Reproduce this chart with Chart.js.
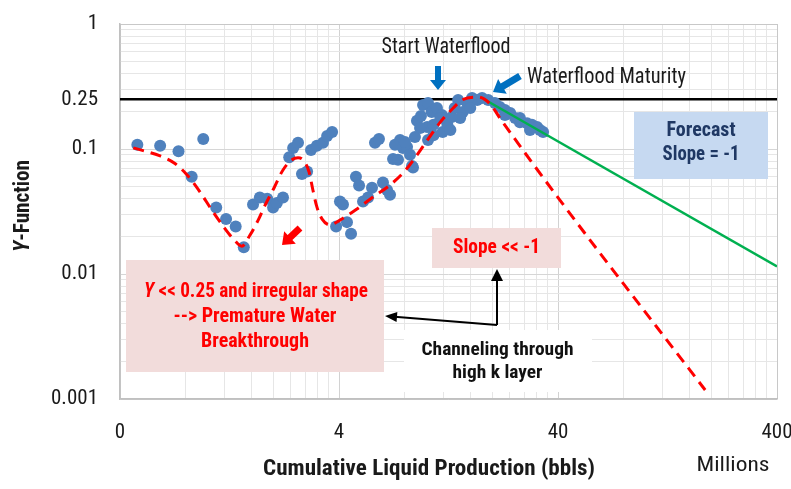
<!DOCTYPE html>
<html><head><meta charset="utf-8">
<script src="https://cdn.jsdelivr.net/npm/chart.js@4.4.1/dist/chart.umd.min.js"></script>
<style>html,body{margin:0;padding:0;background:#fff;}#wrap{position:relative;width:791px;height:489px;}</style>
</head><body><div id="wrap"><canvas id="c" width="791" height="489"></canvas></div>
<script>
const FONT = "'Liberation Sans Narrow','Roboto Condensed','DejaVu Sans Condensed','Liberation Sans',Arial,sans-serif";

const X_MIN = 0.4, X_MAX = 400, Y_MIN = 0.001, Y_MAX = 1;
const xTickValues = [0.4, 4, 40, 400];
const xTickLabels = ['0', '4', '40', '400'];
const yTickValues = [1, 0.25, 0.1, 0.01, 0.001];
const yTickLabels = ['1', '0.25', '0.1', '0.01', '0.001'];

// Cumulative liquid production (millions bbl) and Y-function of the wells
const productionX = [0.48,0.61,0.74,0.96,0.85,1.10,1.22,1.35,1.47,1.62,
  1.74,1.88,2.00,2.08,2.22,2.37,2.47,2.60,2.71,2.86,
  2.98,3.17,3.38,3.53,3.72,4.04,4.17,3.88,4.35,4.54,
  4.78,4.94,5.15,5.43,5.66,5.84,6.09,6.35,6.63,6.84,
  7.06,7.21,7.60,7.84,8.18,8.44,8.71,8.89,9.08,9.47,
  9.68,10.1,8.00,10.2,10.6,11.2,11.8,11.9,12.5,13.1,
  13.5,14.0,14.7,15.4,16.2,17.1,18.0,19.2,20.6,21.7,
  22.9,24.2,25.5,26.8,28.9,30.4,32.1,33.1,34.2,10.2,
  10.8,9.38,11.6,10.8,7.44,8.62,12.9,14.3,15.9,22.9,
  26.8,29.8];
const yFunction = [0.108,0.106,0.096,0.120,0.060,0.034,0.0275,0.024,0.0164,0.036,
  0.041,0.040,0.034,0.037,0.041,0.086,0.102,0.112,0.063,0.066,
  0.098,0.106,0.112,0.127,0.137,0.038,0.036,0.024,0.026,0.021,
  0.060,0.051,0.038,0.041,0.049,0.112,0.120,0.054,0.047,0.043,
  0.083,0.108,0.118,0.102,0.104,0.090,0.071,0.125,0.168,0.184,
  0.225,0.150,0.114,0.233,0.198,0.213,0.187,0.137,0.156,0.180,
  0.213,0.247,0.198,0.233,0.256,0.247,0.256,0.247,0.233,0.217,
  0.205,0.194,0.177,0.164,0.161,0.156,0.150,0.142,0.137,0.118,
  0.129,0.147,0.177,0.156,0.082,0.073,0.142,0.177,0.213,0.187,
  0.177,0.142];

// Red dashed trend (irregular shape / slope << -1)
const trendX = [0.46,0.61,0.71,0.81,0.93,1.05,1.19,1.33,1.44,1.57,1.71,1.84,2.02,2.22,2.44,2.60,2.77,2.92,3.04,3.17,3.35,3.64,4.04,4.83,5.72,6.84,7.92,9.08,10.2,11.6,13.3,14.6,17.3,19.6,21.7,40.8,188];
const trendY = [0.102,0.088,0.077,0.062,0.045,0.0325,0.0238,0.0187,0.0167,0.0205,0.027,0.0356,0.0488,0.068,0.082,0.085,0.080,0.0655,0.047,0.0344,0.0275,0.0247,0.027,0.0331,0.0413,0.0515,0.0655,0.0895,0.120,0.164,0.213,0.247,0.26,0.229,0.177,0.039,0.00118];

// Green forecast, slope = -1
const forecastX = [18.4, 400];
const forecastY = [0.25, 0.0115];

// Y = 0.25 reference level
const refX = [0.4, 400];
const refY = [0.25, 0.25];

const pairs = (xs, ys) => xs.map((x, i) => ({x: x, y: ys[i]}));

function gridValues(bases, last, extra) {
  const out = [];
  bases.forEach(b => { for (let k = 1; k <= 9; k++) out.push(+(b * k).toPrecision(6)); });
  out.push(last);
  (extra || []).forEach(v => out.push(v));
  return out.sort((a, b) => a - b);
}
const xGrid = gridValues([0.4, 4, 40], 400);
const yGrid = gridValues([0.001, 0.01, 0.1], 1, [0.25]);

const near = (a, b) => Math.abs(a - b) / b < 1e-6;
function labelFor(v, vals, labs) {
  for (let i = 0; i < vals.length; i++) if (near(v, vals[i])) return labs[i];
  return '';
}

function fitText(ctx, parts, cx, cy, targetW, color, align) {
  let total = 0;
  parts.forEach(p => { ctx.font = p.f; p.w = ctx.measureText(p.t).width; total += p.w; });
  const sx = targetW / total;
  ctx.save();
  ctx.translate(cx, cy);
  ctx.scale(sx, 1);
  let x = align === 'left' ? 0 : -total / 2;
  ctx.fillStyle = color; ctx.textBaseline = 'middle'; ctx.textAlign = 'left';
  parts.forEach(p => { ctx.font = p.f; ctx.fillText(p.t, x, 0); x += p.w; });
  ctx.restore();
}
const F = (size, style) => `${style || ''} ${size}px ${FONT}`;

function blockArrow(ctx, x1, y1, x2, y2, shaftW, headW, headL, color) {
  const len = Math.hypot(x2 - x1, y2 - y1);
  ctx.save();
  ctx.translate(x1, y1);
  ctx.rotate(Math.atan2(y2 - y1, x2 - x1));
  ctx.beginPath();
  ctx.moveTo(0, -shaftW / 2);
  ctx.lineTo(len - headL, -shaftW / 2);
  ctx.lineTo(len - headL, -headW / 2);
  ctx.lineTo(len, 0);
  ctx.lineTo(len - headL, headW / 2);
  ctx.lineTo(len - headL, shaftW / 2);
  ctx.lineTo(0, shaftW / 2);
  ctx.closePath();
  ctx.fillStyle = color; ctx.fill();
  ctx.restore();
}
function lineArrow(ctx, x1, y1, x2, y2, headL, headW) {
  const ang = Math.atan2(y2 - y1, x2 - x1);
  ctx.save();
  ctx.strokeStyle = '#000'; ctx.fillStyle = '#000'; ctx.lineWidth = 2;
  ctx.beginPath(); ctx.moveTo(x1, y1);
  ctx.lineTo(x2 - Math.cos(ang) * headL * 0.8, y2 - Math.sin(ang) * headL * 0.8); ctx.stroke();
  ctx.translate(x2, y2); ctx.rotate(ang);
  ctx.beginPath(); ctx.moveTo(0, 0); ctx.lineTo(-headL, -headW / 2); ctx.lineTo(-headL, headW / 2); ctx.closePath(); ctx.fill();
  ctx.restore();
}

const annotations = {
  id: 'annotations',
  afterDraw(chart) {
    const ctx = chart.ctx;
    ctx.save();
    // boxes
    ctx.fillStyle = '#F2DCDB';
    ctx.fillRect(126, 260, 258, 112);
    ctx.fillRect(432, 228, 129, 40);
    ctx.fillStyle = '#C6D9F1';
    ctx.fillRect(634, 112, 134, 67);
    ctx.fillStyle = '#FFFFFF';
    ctx.fillRect(404, 330, 188, 62);

    // texts
    fitText(ctx, [{t: 'Start Waterflood', f: F(22)}], 446, 47, 129, '#1a1a1a');
    fitText(ctx, [{t: 'Waterflood Maturity', f: F(22)}], 527, 77.5, 159, '#1a1a1a', 'left');

    fitText(ctx, [{t: 'Y', f: F(21, 'italic bold')}, {t: ' << 0.25 and irregular shape', f: F(21, 'bold')}], 256, 292, 224, '#FF0000');
    fitText(ctx, [{t: '--> Premature Water', f: F(21, 'bold')}], 255, 317, 163, '#FF0000');
    fitText(ctx, [{t: 'Breakthrough', f: F(21, 'bold')}], 255, 342, 108, '#FF0000');

    fitText(ctx, [{t: 'Slope << -1', f: F(21, 'bold')}], 496.5, 248, 87, '#FF0000');

    fitText(ctx, [{t: 'Channeling through', f: F(19, 'bold')}], 497.5, 350, 152, '#111');
    fitText(ctx, [{t: 'high k layer', f: F(19, 'bold')}], 497.5, 373, 90, '#111');

    fitText(ctx, [{t: 'Forecast', f: F(21, 'bold')}], 701, 131, 69, '#1F3864');
    fitText(ctx, [{t: 'Slope = -1', f: F(21, 'bold')}], 701, 154.5, 77, '#1F3864');

    // axis titles
    fitText(ctx, [{t: 'Cumulative Liquid Production (bbls)', f: F(22, 'bold')}], 429, 469, 332, '#1a1a1a');
    fitText(ctx, [{t: 'Millions', f: F(21)}], 733, 466, 73, '#1a1a1a');
    ctx.save();
    ctx.translate(23, 206);
    ctx.rotate(-Math.PI / 2);
    fitText(ctx, [{t: 'Y', f: F(22, 'italic bold')}, {t: '-Function', f: F(22, 'bold')}], 0, 0, 92, '#1a1a1a');
    ctx.restore();

    // arrows
    blockArrow(ctx, 438, 66, 438, 90, 6, 16, 10, '#0070C0');
    blockArrow(ctx, 520, 76, 493, 92, 7, 17, 11, '#0070C0');
    blockArrow(ctx, 300, 228, 282, 245, 7, 17, 11, '#FF0000');
    lineArrow(ctx, 497, 325, 497, 269, 12, 12);
    lineArrow(ctx, 497, 325, 385, 316, 12, 10);
    ctx.restore();
  }
};

const minorCol = '#E6E6E6';
new Chart(document.getElementById('c'), {
  type: 'scatter',
  data: {
    datasets: [
      {label: 'Trend', data: pairs(trendX, trendY), showLine: true, borderColor: '#FF0000', borderWidth: 3,
       borderDash: [11, 7], pointRadius: 0, cubicInterpolationMode: 'monotone', fill: false},
      {label: 'Forecast', data: pairs(forecastX, forecastY), showLine: true, borderColor: '#00B050', borderWidth: 2.5,
       pointRadius: 0, fill: false},
      {label: 'Y-Function', data: pairs(productionX, yFunction), backgroundColor: '#4F81BD', borderWidth: 0,
       pointRadius: 6, pointHoverRadius: 6},
      {label: 'Y = 0.25', data: pairs(refX, refY), showLine: true, borderColor: '#000000', borderWidth: 2.5,
       pointRadius: 0, fill: false}
    ]
  },
  options: {
    responsive: false,
    animation: false,
    devicePixelRatio: 1,
    layout: {padding: {top: 24, right: 14, left: 0, bottom: 0}},
    plugins: {legend: {display: false}, tooltip: {enabled: false}},
    scales: {
      x: {
        type: 'logarithmic', min: X_MIN, max: X_MAX, position: 'bottom',
        afterBuildTicks: s => { s.ticks = xGrid.map(v => ({value: v})); },
        afterFit: s => { s.height = 90; s.paddingLeft = 0; s.paddingRight = 0; },
        ticks: {autoSkip: false, maxRotation: 0, minRotation: 0, padding: 21, color: '#1a1a1a',
          font: {family: FONT, size: 21},
          callback: v => labelFor(v, xTickValues, xTickLabels)},
        grid: {drawTicks: false, lineWidth: 1,
          color: c => {
            const v = c.tick ? c.tick.value : 0;
            if (near(v, 400) || near(v, 0.4)) return '#C8C8C8';
            if (near(v, 4) || near(v, 40)) return '#D2D2D2';
            return minorCol;
          }},
        border: {display: true, color: '#C0C0C0', width: 1.5}
      },
      y: {
        type: 'logarithmic', min: Y_MIN, max: Y_MAX, position: 'left',
        afterBuildTicks: s => { s.ticks = yGrid.map(v => ({value: v})); },
        afterFit: s => { s.width = 120; s.paddingTop = 0; s.paddingBottom = 0; },
        ticks: {autoSkip: false, padding: 22, color: '#1a1a1a',
          font: {family: FONT, size: 21},
          callback: v => labelFor(v, yTickValues, yTickLabels)},
        grid: {drawTicks: false, lineWidth: 1,
          color: c => {
            const v = c.tick ? c.tick.value : 0;
            if (near(v, 1) || near(v, 0.001)) return '#C8C8C8';
            if (near(v, 0.1) || near(v, 0.01)) return '#D6D6D6';
            return minorCol;
          }},
        border: {display: true, color: '#C0C0C0', width: 1.5}
      }
    }
  },
  plugins: [annotations]
});
</script></body></html>
